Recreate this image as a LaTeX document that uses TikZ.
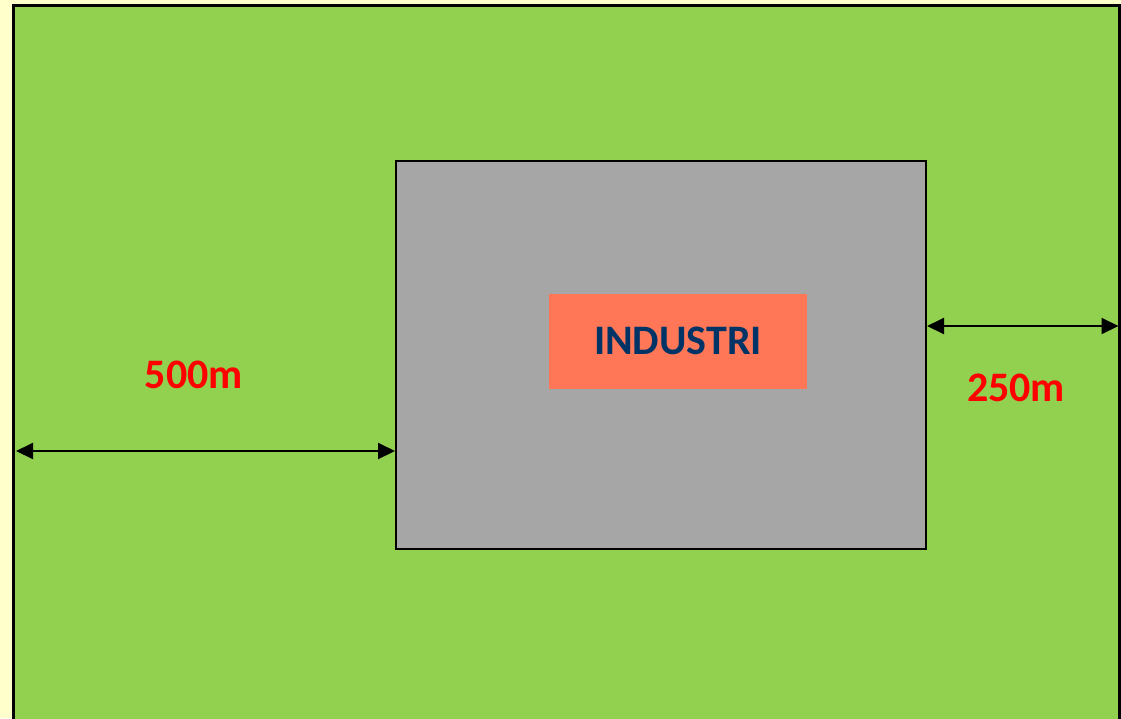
\documentclass[tikz,border=0pt]{standalone}
\usepackage{fontspec}
\setmainfont{Carlito}
\usetikzlibrary{positioning}
\usetikzlibrary{arrows.meta}
\definecolor{pagebg}{HTML}{FFFFCC}
\definecolor{lawn}{HTML}{92D050}
\definecolor{plantgray}{HTML}{A6A6A6}
\definecolor{salmon}{HTML}{FF7757}
\definecolor{navy}{HTML}{003366}
\tikzset{dim/.style = {line width = 2pt, {Triangle[length=17pt, width=16pt]}-{Triangle[length=17pt, width=16pt]}}}
\tikzset{dimlabel/.style = {text = red, font = \fontsize{42}{50}\selectfont\bfseries}}

\begin{document}
\begin{tikzpicture}[x=1pt, y=-1pt]
    \useasboundingbox (0, 0) rectangle (1121, 718);
    \fill [pagebg] (0, 0) rectangle (1121, 718);
    \draw [line width=3pt, fill=lawn] (13.5, 5) rectangle (1119, 740);

    \node [draw, line width=2pt, fill=plantgray, minimum width=530pt, minimum height=388pt, inner sep=0] (site) at (661, 355) {};
    \node [fill=salmon, minimum width=258pt, minimum height=95pt, inner sep=0, text=navy, font=\fontsize{42}{50}\selectfont\bfseries] (plant) at (678, 341) {INDUSTRI};

    \coordinate (leftend) at (16, 451);
    \draw [dim] (leftend) -- (leftend -| site.west);
    \node [dimlabel] (leftlabel) at (194, 375) {500m};

    \coordinate (rightend) at (1118.5, 326);
    \draw [dim] (rightend -| site.east) -- (rightend);
    \node [dimlabel] (rightlabel) at (1016, 388) {250m};
\end{tikzpicture}
\end{document}
